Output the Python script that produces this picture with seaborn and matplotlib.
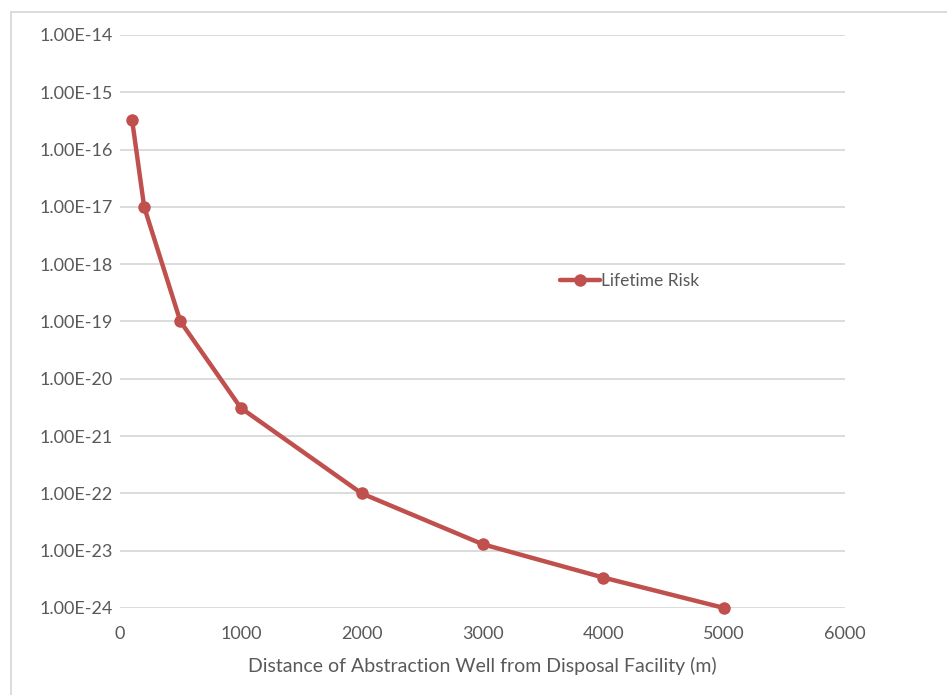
import matplotlib
matplotlib.use("Agg")
import matplotlib.pyplot as plt
from matplotlib.ticker import FuncFormatter, FixedLocator
from matplotlib.lines import Line2D
import seaborn as sns
import pandas as pd
import math

distance = [100, 200, 500, 1000, 2000, 3000, 4000, 5000]
lifetime_risk = [3.3e-16, 1.0e-17, 1.0e-19, 3.1e-21, 1.0e-22, 1.3e-23, 3.4e-24, 1.0e-24]
series_name = "Lifetime Risk"
x_ticks = [0, 1000, 2000, 3000, 4000, 5000, 6000]
y_ticks = [1e-24, 1e-23, 1e-22, 1e-21, 1e-20, 1e-19, 1e-18, 1e-17, 1e-16, 1e-15, 1e-14]
x_label = "Distance of Abstraction Well from Disposal Facility (m)"

df = pd.DataFrame({"distance": distance, "risk": lifetime_risk, "series": series_name})

sns.set_style("white")
plt.rcParams['font.family'] = ['Lato', 'DejaVu Sans']

fig = plt.figure(figsize=(9.47, 6.95), dpi=100)
ax = fig.add_axes([120/947, (695-608)/695, 725/947, 573/695])

color = "#c0504d"
sns.lineplot(data=df, x="distance", y="risk", hue="series", palette=[color],
             marker="o", markersize=9, linewidth=3.2, markeredgewidth=0,
             ax=ax, zorder=3)
for ln in ax.get_lines():
    ln.set_clip_on(False)

ax.set_yscale("log")
ax.set_ylim(1e-24, 1e-14)
ax.set_xlim(0, 6000)
ax.yaxis.set_major_locator(FixedLocator(y_ticks))
ax.yaxis.set_minor_locator(FixedLocator([]))
ax.xaxis.set_major_locator(FixedLocator(x_ticks))

def fmt(v, pos):
    e = int(round(math.log10(v)))
    return f"1.00E{e:+03d}".replace("E+", "E")
ax.yaxis.set_major_formatter(FuncFormatter(fmt))

ax.grid(axis="y", color="#d9d9d9", linewidth=1.3)
ax.grid(axis="x", visible=False)
for s in ax.spines.values():
    s.set_visible(False)
ax.tick_params(axis="both", length=0, labelsize=13, colors="#595959")
ax.tick_params(axis="y", pad=5)
ax.tick_params(axis="x", pad=13)
ax.set_xlabel(x_label, fontsize=14, color="#595959", labelpad=11)
ax.set_ylabel("")

leg = ax.legend(loc="center left", bbox_to_anchor=(0.585, 0.57), frameon=False,
                fontsize=12.5, handlelength=2.3, handletextpad=0.1)
for t in leg.get_texts():
    t.set_color("#595959")

fig.add_artist(Line2D([11/947, 1.0], [1-12/695, 1-12/695], color="#d9d9d9", linewidth=1.3, transform=fig.transFigure))
fig.add_artist(Line2D([11/947, 11/947], [0, 1-12/695], color="#d9d9d9", linewidth=1.3, transform=fig.transFigure))

fig.savefig("out.png", dpi=100)
